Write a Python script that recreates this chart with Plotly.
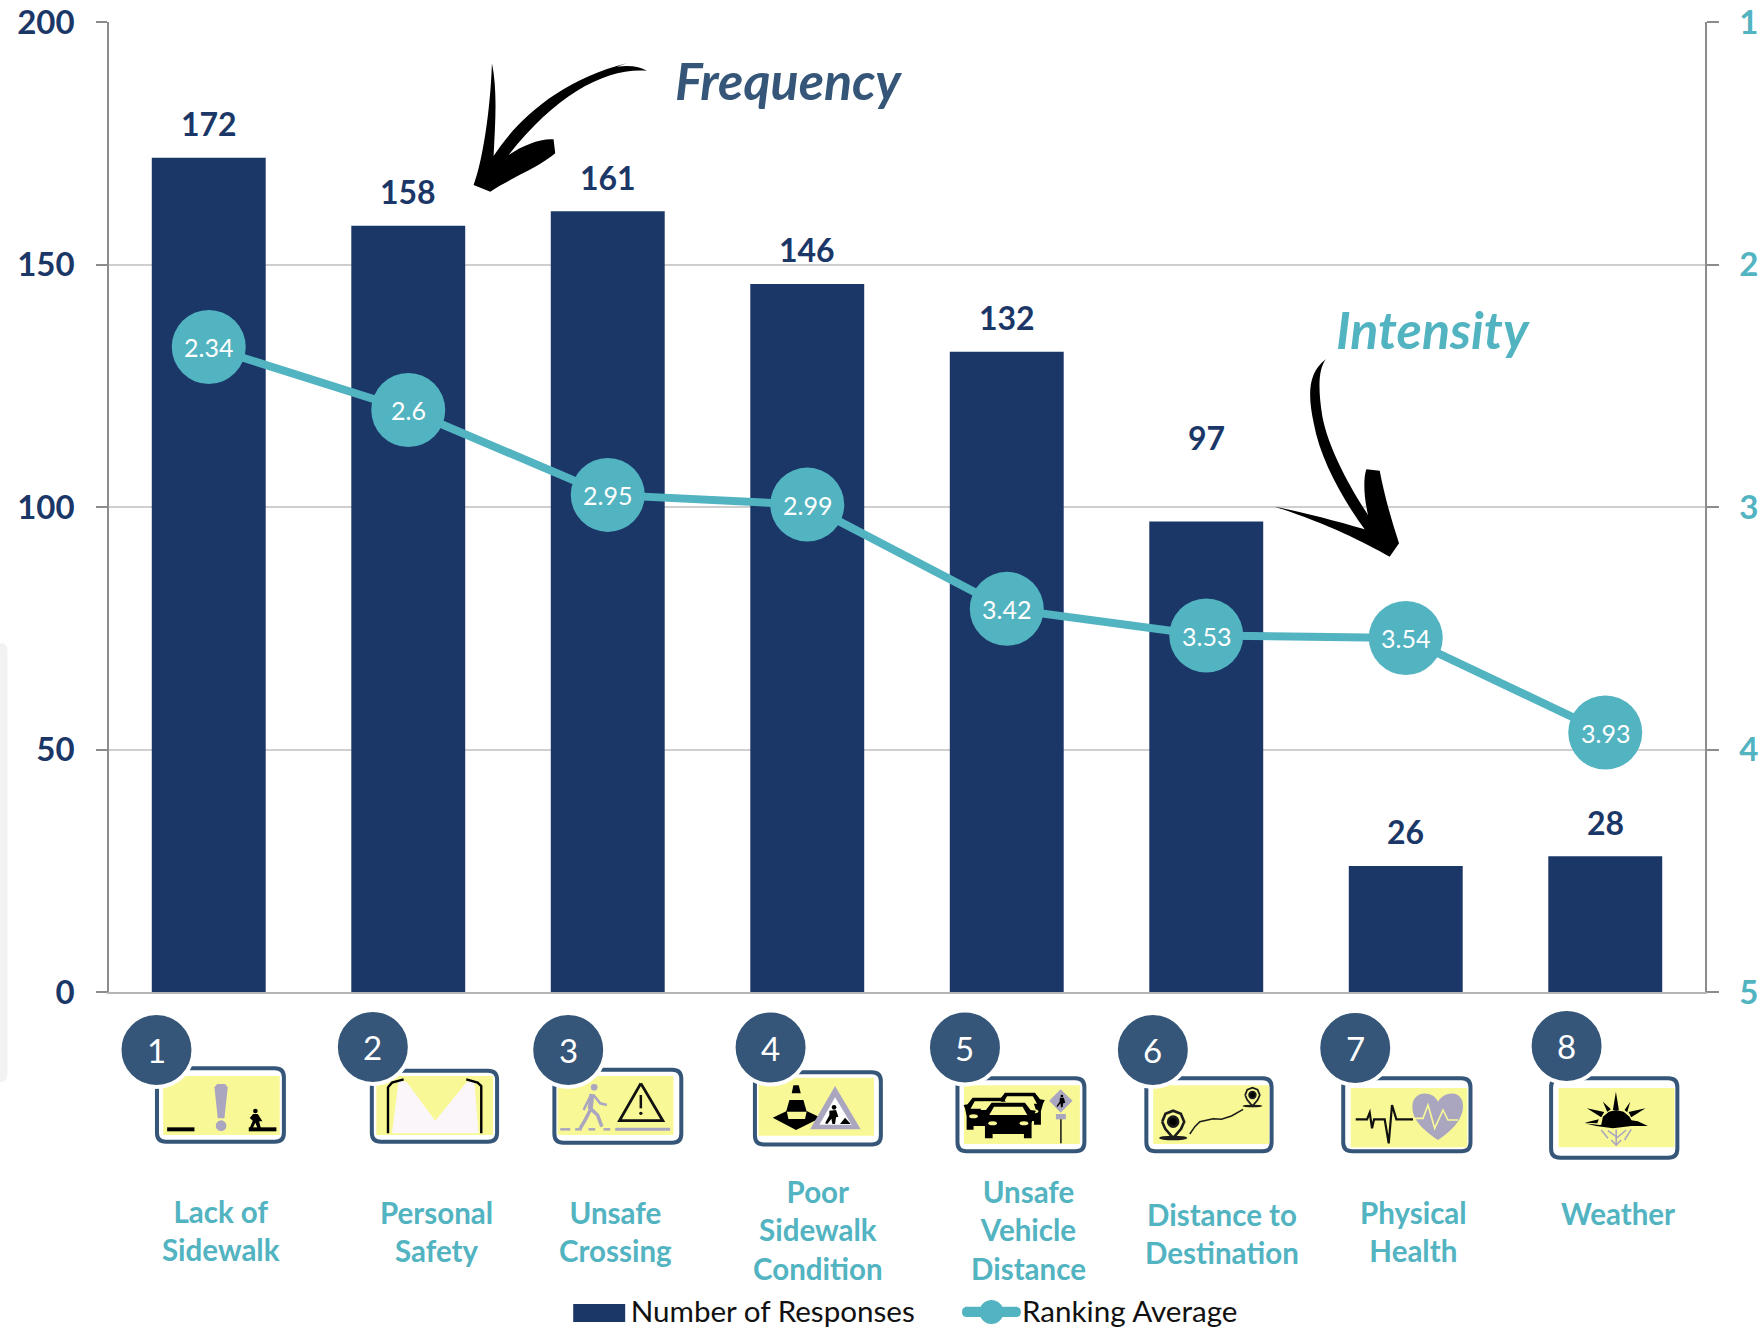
import plotly.graph_objects as go

# ---------- data ----------
categories = ["Lack of Sidewalk", "Personal Safety", "Unsafe Crossing", "Poor Sidewalk Condition",
              "Unsafe Vehicle Distance", "Distance to Destination", "Physical Health", "Weather"]
responses = [172, 158, 161, 146, 132, 97, 26, 28]
ranking = [2.34, 2.6, 2.95, 2.99, 3.42, 3.53, 3.54, 3.93]
left_ticks = [0, 50, 100, 150, 200]
right_ticks = [1, 2, 3, 4, 5]
wrapped_labels = ["Lack of<br>Sidewalk", "Personal<br>Safety", "Unsafe<br>Crossing", "Poor<br>Sidewalk<br>Condition",
                  "Unsafe<br>Vehicle<br>Distance", "Distance to<br>Destination", "Physical<br>Health", "Weather"]

# ---------- style ----------
NAVY = "#1A3768"
TEAL = "#52B3C1"
SLATE = "#355678"
YELLOW = "#F8F996"
GREY = "#AAA6C0"
FONT = "Lato"
W, H = 1764, 1327
L, R, T, B = 108.5, 1705.5, 22, 992


def px(x, y):
    return (x - L) / (R - L), 1 - (y - T) / (B - T)


shapes = []


def path_str(pts, closed=True):
    s = []
    for i, (x, y) in enumerate(pts):
        a, b = px(x, y)
        s.append(("M" if i == 0 else "L") + f"{a:.5f},{b:.5f}")
    return " ".join(s) + (" Z" if closed else "")


def add_path(path, fill=None, color=None, width=0):
    shapes.append(dict(type="path", xref="paper", yref="paper", path=path, layer="above",
                       fillcolor=fill if fill else "rgba(0,0,0,0)",
                       line=dict(color=color if color else "rgba(0,0,0,0)", width=width)))


def poly(o, pts, fill="#000"):
    add_path(path_str([(o[0] + x / 3, o[1] + y / 3) for x, y in pts]), fill=fill)


def line(o, pts, color="#000", width=2.0):
    add_path(path_str([(o[0] + x / 3, o[1] + y / 3) for x, y in pts], closed=False), color=color, width=width)


def ellipse(cx, cy, rx, ry, fill=None, color=None, width=0):
    x0, y1 = px(cx - rx, cy - ry)
    x1, y0 = px(cx + rx, cy + ry)
    shapes.append(dict(type="circle", xref="paper", yref="paper", x0=x0, x1=x1, y0=y0, y1=y1, layer="above",
                       fillcolor=fill if fill else "rgba(0,0,0,0)",
                       line=dict(color=color if color else "rgba(0,0,0,0)", width=width)))


def dot(o, cx, cy, rx, ry=None, fill="#000", color=None, width=0):
    ellipse(o[0] + cx / 3, o[1] + cy / 3, rx / 3, (ry if ry else rx) / 3, fill, color, width)


def rrect(x0, y0, x1, y1, r):
    def p(x, y):
        a, b = px(x, y)
        return f"{a:.5f},{b:.5f}"
    return (f"M{p(x0 + r, y0)} L{p(x1 - r, y0)} Q{p(x1, y0)} {p(x1, y0 + r)} L{p(x1, y1 - r)} "
            f"Q{p(x1, y1)} {p(x1 - r, y1)} L{p(x0 + r, y1)} Q{p(x0, y1)} {p(x0, y1 - r)} "
            f"L{p(x0, y0 + r)} Q{p(x0, y0)} {p(x0 + r, y0)} Z")


def curve(o, segments):
    """segments: list of ('M'|'L'|'C', points) in zoom coordinates"""
    out = []
    for cmd, pts in segments:
        cs = []
        for x, y in pts:
            a, b = px(o[0] + x / 3, o[1] + y / 3)
            cs.append(f"{a:.5f},{b:.5f}")
        out.append(cmd + " ".join(cs))
    return " ".join(out) + " Z"


def icon_frame(o, frame, yellow):
    fx0, fy0, fx1, fy1 = frame
    add_path(rrect(o[0] + fx0 / 3 + 1.5, o[1] + fy0 / 3 + 1.5, o[0] + fx1 / 3 - 1.5, o[1] + fy1 / 3 - 1.5, 9),
             fill="#FFFFFF", color=SLATE, width=4)
    yx0, yy0, yx1, yy1 = yellow
    poly(o, [(yx0, yy0), (yx1, yy0), (yx1, yy1), (yx0, yy1)], YELLOW)


# grey tab at the far left edge
add_path(rrect(-12, 643, 7, 1082, 8), fill="#F2F2F2")

# --- icon 1 & 2
Z7 = (150, 1050)
icon_frame(Z7, (15, 50, 405, 280), (38, 78, 388, 255))
poly(Z7, [(50, 232), (132, 232), (132, 244), (50, 244)])
poly(Z7, [(295, 232), (378, 232), (378, 244), (295, 244)])
poly(Z7, [(192, 112), (200, 102), (224, 102), (232, 112), (222, 205), (202, 205)], GREY)
dot(Z7, 212, 227, 16, fill=GREY)
dot(Z7, 315, 183, 7)
poly(Z7, [(308, 192), (322, 192), (336, 214), (326, 214), (332, 236), (322, 236), (315, 218), (306, 236),
          (297, 236), (307, 212), (298, 204)])

icon_frame(Z7, (660, 58, 1045, 280), (678, 78, 1028, 255))
poly(Z7, [(745, 92), (768, 95), (855, 212), (950, 95), (972, 95), (985, 250), (725, 250)], "#FBF6FA")
line(Z7, [(713, 250), (713, 112), (725, 98), (760, 88)], width=2.4)
line(Z7, [(993, 250), (993, 108), (982, 98), (948, 88)], width=2.4)

# --- icon 3 & 4
Z8 = (540, 1050)
icon_frame(Z8, (38, 55, 428, 283), (52, 78, 400, 255))
dot(Z8, 162, 112, 10, fill=GREY)
line(Z8, [(155, 132), (150, 178)], GREY, 5)
line(Z8, [(160, 135), (180, 160), (200, 165)], GREY, 2.5)
line(Z8, [(150, 140), (130, 180)], GREY, 2.5)
line(Z8, [(150, 175), (172, 195), (185, 230)], GREY, 3.5)
line(Z8, [(150, 180), (135, 210), (120, 235)], GREY, 3.5)
for xa, xb in [(60, 90), (105, 125), (145, 165), (190, 210)]:
    line(Z8, [(xa, 238), (xb, 238)], GREY, 2.5)
line(Z8, [(225, 238), (390, 238)], GREY, 3)
line(Z8, [(302, 100), (368, 212), (238, 212), (302, 100)], "#111", 2.8)
line(Z8, [(302, 135), (302, 175)], "#111", 2.5)
dot(Z8, 302, 190, 5, fill="#111")

icon_frame(Z8, (640, 62, 1027, 288), (655, 83, 1002, 257))
poly(Z8, [(755, 130), (760, 106), (776, 106), (782, 130)])
poly(Z8, [(748, 150), (790, 150), (800, 185), (738, 185)])
poly(Z8, [(698, 203), (740, 183), (745, 207), (795, 207), (800, 183), (842, 203), (768, 240)])
poly(Z8, [(885, 108), (962, 238), (810, 238)], GREY)
poly(Z8, [(885, 142), (935, 224), (838, 224)], "#FFFFFF")
dot(Z8, 882, 172, 7)
poly(Z8, [(868, 182), (888, 180), (895, 200), (888, 202), (885, 222), (877, 222), (874, 206), (862, 222),
          (855, 220), (868, 196)])
poly(Z8, [(900, 222), (915, 203), (932, 222)])

# --- icon 5 & 6
Z9 = (950, 1060)
icon_frame(Z9, (18, 50, 408, 278), (42, 76, 390, 252))


def car(dx, dy, s=1.0):
    def t(pts):
        return [(175 + (x - 175) * s + dx, 180 + (y - 180) * s + dy) for x, y in pts]
    poly(Z9, t([(100, 165), (95, 152), (108, 150), (125, 128), (225, 128), (242, 150), (258, 152), (252, 165),
                (245, 190), (245, 235), (222, 235), (222, 222), (128, 222), (128, 235), (105, 235), (105, 190)]))
    poly(Z9, t([(132, 140), (218, 140), (232, 165), (118, 165)]), YELLOW)
    dot(Z9, *t([(128, 190)])[0], 13, 6, fill=YELLOW)
    dot(Z9, *t([(222, 190)])[0], 13, 6, fill=YELLOW)


car(35, -35, .9)
car(-62, -20, .9)
poly(Z9, [(100, 125), (250, 125), (258, 150), (92, 150)], YELLOW)
car(0, 0)
poly(Z9, [(332, 88), (368, 122), (332, 158), (298, 122)], GREY)
dot(Z9, 336, 108, 4)
poly(Z9, [(330, 113), (342, 113), (346, 128), (340, 130), (338, 142), (333, 142), (332, 130), (322, 142), (320, 138),
          (329, 125)])
poly(Z9, [(318, 162), (348, 162), (348, 178), (318, 178)], GREY)
line(Z9, [(333, 178), (333, 250)], "#222", 1.6)

icon_frame(Z9, (585, 50, 970, 278), (610, 76, 958, 252))


def pin(cx, cy, r, tipy, rin, brx, bry, w):
    pts = [(cx - r, cy), (cx - r * .7, cy - r * .72), (cx, cy - r), (cx + r * .7, cy - r * .72), (cx + r, cy),
           (cx + r * .72, cy + r * .65), (cx, tipy), (cx - r * .72, cy + r * .65), (cx - r, cy)]
    line(Z9, pts, "#1b1b1b", w)
    dot(Z9, cx, cy, rin, color="#1b1b1b", width=w)
    dot(Z9, cx, tipy, brx, bry, fill="#1b1b1b")


pin(670, 185, 33, 234, 15, 42, 7, 2.6)
pin(908, 105, 22, 138, 10, 30, 4, 1.8)
line(Z9, [(720, 222), (735, 200), (750, 185), (790, 176), (815, 178), (845, 168), (880, 148)], "#1b1b1b", 1.5)

# --- icon 7 & 8
Z10 = (1330, 1060)
icon_frame(Z10, (36, 50, 427, 278), (63, 84, 413, 262))
line(Z10, [(78, 178), (112, 178), (120, 158), (127, 205), (133, 178), (165, 178), (177, 250), (187, 135), (200, 178),
           (250, 178)], "#111", 2.2)
add_path(curve(Z10, [("M", [(325, 240)]), ("C", [(290, 215), (248, 185), (248, 140)]),
                     ("C", [(248, 90), (310, 90), (325, 125)]), ("C", [(345, 90), (402, 90), (400, 140)]),
                     ("C", [(398, 185), (360, 215), (325, 240)])]), fill=GREY)
line(Z10, [(255, 175), (280, 175), (295, 135), (315, 205), (340, 150), (355, 180), (385, 180)], YELLOW, 1.6)

icon_frame(Z10, (660, 50, 1048, 298), (687, 84, 1035, 262))
for tri in [[(850, 150), (868, 150), (859, 95)], [(833, 155), (820, 125), (844, 148)], [(885, 150), (902, 125), (893, 157)],
            [(815, 172), (772, 145), (824, 156)], [(905, 172), (948, 145), (897, 156)], [(803, 190), (765, 188), (808, 178)]]:
    poly(Z10, tri)
poly(Z10, [(815, 195), (820, 170), (838, 155), (860, 150), (882, 155), (900, 170), (908, 185), (840, 200)])
poly(Z10, [(765, 190), (800, 198), (850, 205), (905, 198), (955, 198), (925, 184), (900, 180), (850, 190), (810, 195)])
for seg in [[(860, 208), (860, 255)], [(860, 230), (835, 212)], [(860, 235), (890, 210)], [(835, 235), (815, 210)],
            [(885, 240), (905, 208)], [(845, 240), (860, 255), (875, 240)]]:
    line(Z10, seg, GREY, 1.6)

# numbered circles
badge_x = [156, 372.5, 568, 770.5, 965, 1153, 1355.5, 1567]
badge_y = [1050, 1047, 1050, 1047.5, 1047.5, 1050, 1048, 1046]
for bx, by in zip(badge_x, badge_y):
    ellipse(bx, by, 37, 37, fill=SLATE, color="#FFFFFF", width=4)

# brush arrows
Z3 = (440, 30)
add_path(curve(Z3, [("M", [(155, 100)]), ("C", [(172, 180), (165, 280), (160, 378)]),
                    ("C", [(230, 270), (360, 150), (560, 100)]), ("L", [(530, 110)]),
                    ("C", [(570, 105), (600, 110), (620, 122)]), ("C", [(500, 112), (350, 190), (205, 375)]),
                    ("C", [(250, 345), (300, 325), (340, 328)]), ("L", [(345, 370)]),
                    ("C", [(300, 410), (200, 450), (150, 485)]), ("L", [(100, 465)]),
                    ("C", [(125, 400), (150, 250), (155, 100)])]), fill="#000")
Z4 = (1250, 290)
add_path(curve(Z4, [("M", [(228, 208)]), ("C", [(205, 240), (205, 300), (218, 380)]),
                    ("C", [(238, 480), (300, 590), (355, 675)]), ("C", [(340, 610), (342, 560), (350, 538)]),
                    ("L", [(390, 542)]), ("C", [(405, 620), (425, 690), (448, 760)]), ("L", [(420, 800)]),
                    ("C", [(340, 755), (230, 700), (75, 650)]), ("C", [(150, 665), (250, 690), (345, 718)]),
                    ("C", [(280, 630), (212, 510), (192, 400)]), ("C", [(175, 320), (172, 250), (228, 208)])]),
         fill="#000")

# legend key extensions
lk1 = (573, 1304, 625, 1322)
add_path(path_str([(lk1[0], lk1[1]), (lk1[2], lk1[1]), (lk1[2], lk1[3]), (lk1[0], lk1[3])]), fill=NAVY)
add_path(rrect(962, 1307, 1021, 1317, 5), fill=TEAL)
ellipse(991.5, 1312, 12, 12, fill=TEAL)

# ---------- annotations ----------
annotations = []


def note(x, y, text, size, color, bold=False, italic=False):
    a, b = px(x, y)
    t = text
    if bold:
        t = f"<b>{t}</b>"
    if italic:
        t = f"<i>{t}</i>"
    annotations.append(dict(x=a, y=b, xref="paper", yref="paper", text=t, showarrow=False, xanchor="center",
                            yanchor="middle", font=dict(family=FONT, size=size, color=color), align="center"))


label_x = [220.5, 436.5, 615, 818, 1029, 1222, 1414, 1618]
label_y = [1230, 1231, 1231, 1230, 1230, 1233, 1231, 1213]
for lx, ly, t in zip(label_x, label_y, wrapped_labels):
    note(lx, ly, t, 29.5, TEAL, bold=True)
for i, (bx, by) in enumerate(zip(badge_x, badge_y)):
    note(bx, by, str(i + 1), 33, "#FFFFFF")
note(788, 80, "Frequency", 52, SLATE, bold=True, italic=True)
note(1433, 329, "Intensity", 52, TEAL, bold=True, italic=True)

bar_label_shift = [34, 34, 34, 34, 34, 84, 34, 34]
for c, v, s in zip(categories, responses, bar_label_shift):
    annotations.append(dict(x=c, y=v, xref="x", yref="y", text=f"<b>{v}</b>", showarrow=False, yshift=s,
                            yanchor="middle", font=dict(family=FONT, size=32, color=NAVY)))
for c, v in zip(categories, ranking):
    annotations.append(dict(x=c, y=v, xref="x", yref="y2", text=str(v), showarrow=False, yshift=0,
                            yanchor="middle", font=dict(family=FONT, size=25, color="#FFFFFF")))

# ---------- figure ----------
fig = go.Figure()
fig.add_trace(go.Bar(x=categories, y=responses, name="Number of Responses", marker=dict(color=NAVY, line=dict(width=0)),
                     width=0.571, yaxis="y", legend="legend"))
fig.add_trace(go.Scatter(x=categories, y=ranking, name="Ranking Average", mode="lines+markers", yaxis="y2",
                         line=dict(color=TEAL, width=8), marker=dict(size=74, color=TEAL), legend="legend2",
                         cliponaxis=False))

leg_font = dict(family=FONT, size=29.6, color="#111111")
fig.update_layout(
    width=W, height=H,
    margin=dict(l=L, r=W - R, t=T, b=H - B, autoexpand=False, pad=0),
    paper_bgcolor="#FFFFFF", plot_bgcolor="#FFFFFF",
    xaxis=dict(type="category", categoryorder="array", categoryarray=categories, range=[-0.5, 7.5],
               showticklabels=False, ticks="", showgrid=False, showline=True, linecolor="#B5B5B5", linewidth=1.5,
               zeroline=False),
    yaxis=dict(range=[0, 200], tickvals=left_ticks, ticks="outside", ticklen=11, tickwidth=1.5, tickcolor="#8C8C8C",
               showline=True, linecolor="#8C8C8C", linewidth=1.5, showgrid=True, gridcolor="#CFCFCF", gridwidth=1.5,
               zeroline=False, ticklabelstandoff=15,
               tickfont=dict(family=FONT, size=33, color=NAVY, weight="bold")),
    yaxis2=dict(range=[5, 1], tickvals=right_ticks, overlaying="y", side="right", ticks="outside", ticklen=12,
                tickwidth=1.5, tickcolor="#8C8C8C", showline=True, linecolor="#8C8C8C", linewidth=1.5, showgrid=False,
                zeroline=False, ticklabelstandoff=14,
                tickfont=dict(family=FONT, size=33, color=TEAL, weight="bold")),
    legend=dict(x=(568.5 - L) / (R - L), y=px(0, 1311)[1], xanchor="left", yanchor="middle", orientation="h",
                font=leg_font, itemwidth=52, bgcolor="rgba(0,0,0,0)", borderwidth=0, itemclick=False,
                itemdoubleclick=False),
    legend2=dict(x=(960 - L) / (R - L), y=px(0, 1311)[1], xanchor="left", yanchor="middle", orientation="h",
                 font=leg_font, itemwidth=52, bgcolor="rgba(0,0,0,0)", borderwidth=0, itemclick=False,
                 itemdoubleclick=False),
    shapes=shapes,
    annotations=annotations,
    showlegend=True,
)

fig.write_html("out.html", config=dict(displayModeBar=False),
               post_script="document.body.style.margin='0';document.body.style.overflow='hidden';")
